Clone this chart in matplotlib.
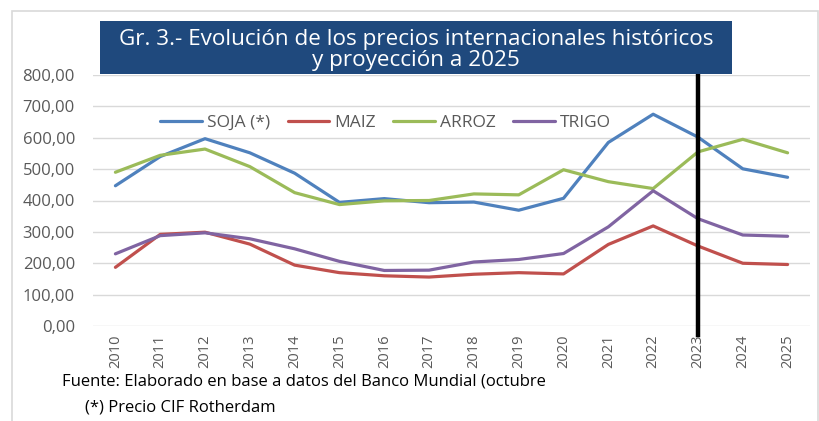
import matplotlib.pyplot as plt
from matplotlib.patches import Rectangle

years = [str(y) for y in range(2010, 2026)]
soja = [447, 540, 597, 552, 487, 394, 406, 393, 395, 369, 407, 585, 675, 602, 501, 474]
maiz = [187, 292, 299, 261, 194, 170, 160, 156, 165, 170, 166, 260, 319, 255, 200, 196]
arroz = [490, 544, 564, 508, 425, 387, 399, 400, 421, 418, 498, 460, 438, 555, 595, 552]
trigo = [230, 288, 297, 278, 246, 206, 177, 178, 204, 212, 231, 316, 431, 342, 290, 286]

series = [("SOJA (*)", soja, "#4F81BD"), ("MAIZ", maiz, "#C0504D"),
          ("ARROZ", arroz, "#9BBB59"), ("TRIGO", trigo, "#8064A2")]

plt.rcParams['font.family'] = ['Open Sans', 'DejaVu Sans']
grey = "#595959"

fig = plt.figure(figsize=(8.2, 4.21), dpi=100)
ax = fig.add_axes([93 / 820, 1 - 326 / 421, (810 - 93) / 820, (326 - 75) / 421])

x = list(range(len(years)))
for name, vals, col in series:
    ax.plot(x, vals, color=col, lw=2.3, label=name, solid_capstyle='round')

ax.set_xlim(-0.5, len(years) - 0.5)
ax.set_ylim(0, 800)
ax.set_yticks(range(0, 801, 100))
ax.set_yticklabels([f"{v},00" for v in range(0, 801, 100)], color=grey, fontsize=12)
ax.set_xticks(x)
ax.set_xticklabels(years, rotation=90, color=grey, fontsize=10.5)
ax.tick_params(axis='y', length=0, pad=13)
ax.tick_params(axis='x', length=0, pad=6)
ax.grid(axis='y', color="#D9D9D9", lw=1)
ax.set_axisbelow(True)
for s in ax.spines.values():
    s.set_visible(False)

# projection marker at 2023
ax.plot([13, 13], [800, -28], color='black', lw=3.2, clip_on=False, zorder=5)

leg = ax.legend(loc='center left', bbox_to_anchor=(0.072, 0.81), ncol=4, frameon=False,
                fontsize=12.5, handlelength=2.4, columnspacing=1.0, handletextpad=0.3)
for t in leg.get_texts():
    t.set_color(grey)

# title box
fig.patches.append(Rectangle((100 / 820, 1 - 74 / 421), (732 - 100) / 820, (74 - 21) / 421,
                             transform=fig.transFigure, facecolor="#1F497D", edgecolor='none'))
fig.text(416 / 820, 1 - 50 / 421, "Gr. 3.- Evolución de los precios internacionales históricos\ny proyección a 2025",
         ha='center', va='center', color='white', fontsize=16.2, linespacing=1.0)

# outer border
fig.patches.append(Rectangle((12 / 820, -0.01), (818 - 12) / 820, 1 - 11 / 421 + 0.01,
                             transform=fig.transFigure, facecolor='none', edgecolor="#D9D9D9", lw=1.2))

fig.text(62 / 820, 1 - 382 / 421, "Fuente: Elaborado en base a datos del Banco Mundial (octubre",
         ha='left', va='center', color='black', fontsize=12)
fig.text(85 / 820, 1 - 407 / 421, "(*) Precio CIF Rotherdam",
         ha='left', va='center', color='black', fontsize=12)

fig.savefig("out.png", dpi=100)
